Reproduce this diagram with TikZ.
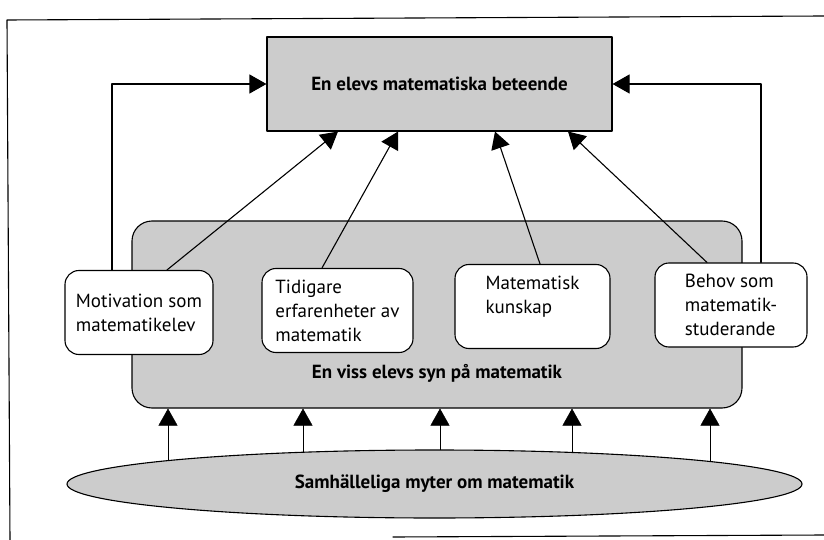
\documentclass[tikz,border=0pt]{standalone}
\usepackage{fontspec}
\setmainfont{PT Sans}
\usetikzlibrary{arrows.meta,shapes.geometric,backgrounds}
\tikzset{
  fwd/.style={-{Triangle[length=17pt,width=19pt]}},
  stipple/.style={draw,fill=black!20},
  idea/.style={draw,fill=white,rounded corners=14pt,align=left,minimum height=84pt,inner sep=0pt},
}
\begin{document}
\begin{tikzpicture}[x=1pt,y=-1pt,line width=1.1pt,line cap=round,line join=round,
  font=\fontsize{19}{24}\selectfont]
	\useasboundingbox (0,0) rectangle (824,540);
	% frame
	\draw (10,540)--(7,20)--(824,16);
	\draw (393,537)--(824,535);
	% boxes
	\node[stipple,rounded corners=20pt,minimum width=610pt,minimum height=187pt] (syn) at (437,314.5) {};
	\node[font=\fontsize{19}{24}\selectfont\bfseries] (synlabel) at (437,373) {En viss elevs syn på matematik};
	\node[idea,minimum width=148pt] (motiv) at (139,312.5) {Motivation som\\matematikelev};
	\node[idea,minimum width=151pt] (tidig) at (337.5,310.5) {Tidigare\\erfarenheter av\\matematik};
	\node[idea,minimum width=155pt] (kunsk) at (532.5,306.5) {Matematisk\\kunskap\\\mbox{}};
	\node[idea,minimum width=152pt] (behov) at (731,305) {Behov som\\matematik-\\studerande};
	\node[stipple,minimum width=345pt,minimum height=94pt,font=\fontsize{19}{24}\selectfont\bfseries] (beteende) at (439.5,84) {En elevs matematiska beteende};
	\node[stipple,ellipse,inner sep=0pt,minimum width=735pt,minimum height=68pt,font=\fontsize{19}{24}\selectfont\bfseries] (myter) at (434.5,484) {Samhälleliga myter om matematik};
	% arrows to the top box
	\draw[fwd] ([xshift=28pt]motiv.north) -- ([xshift=-101.5pt]beteende.south);
	\draw[fwd] ([xshift=-15.5pt]tidig.north) -- ([xshift=-41.5pt]beteende.south);
	\draw[fwd] ([xshift=7.5pt]kunsk.north) -- ([xshift=55.5pt]beteende.south);
	\draw[fwd] ([xshift=-24pt]behov.north) -- ([xshift=128.5pt]beteende.south);
	\draw[fwd] ([xshift=-27pt]motiv.north) |- (beteende.west);
	\draw[fwd] ([xshift=30pt]behov.north) |- (beteende.east);
	% arrows from the ellipse
	\begin{pgfonlayer}{background}
	\foreach \dx [count=\i] in {-269,-134,3,135,273}{
		\coordinate (t\i) at ([xshift=\dx pt]syn.south);
		\draw[fwd] (t\i |- myter.center) -- (t\i);
	}
	\end{pgfonlayer}
\end{tikzpicture}
\end{document}
